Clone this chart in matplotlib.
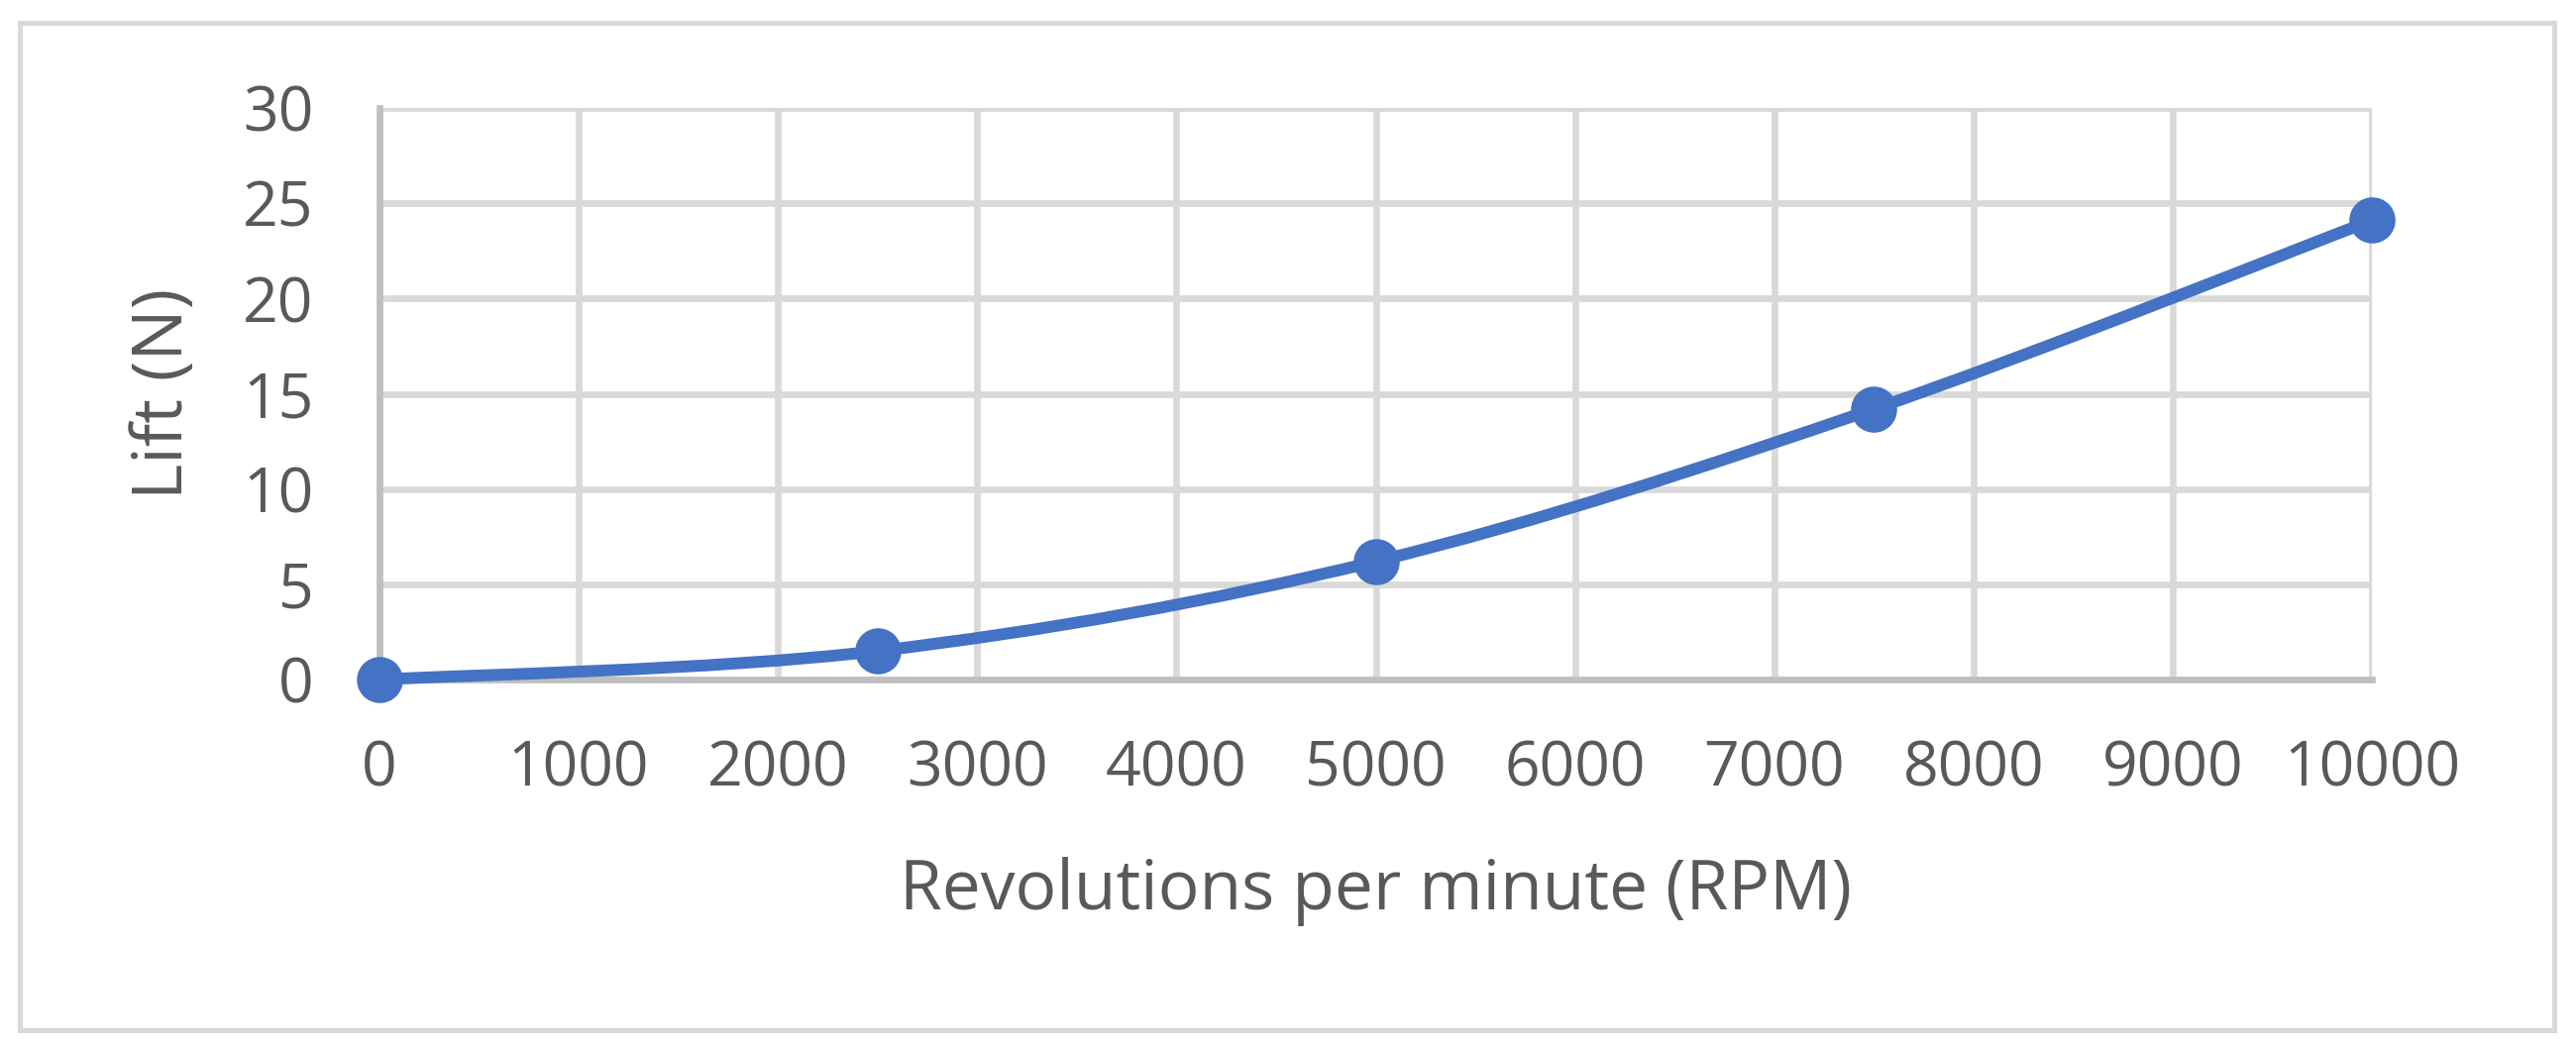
import matplotlib
matplotlib.use("Agg")
import matplotlib.pyplot as plt
import numpy as np
from matplotlib.path import Path
from matplotlib.patches import PathPatch, Rectangle

# Datos
rpm = [0, 2500, 5000, 7500, 10000]
lift = [0, 1.5, 6.2, 14.2, 24.1]
x_ticks = [0, 1000, 2000, 3000, 4000, 5000, 6000, 7000, 8000, 9000, 10000]
y_ticks = [0, 5, 10, 15, 20, 25, 30]
x_label = "Revolutions per minute (RPM)"
y_label = "Lift (N)"

blue = "#4472C4"
text_gray = "#595959"
grid_gray = "#D9D9D9"
axis_gray = "#BFBFBF"

plt.rcParams['font.family'] = ['Open Sans', 'DejaVu Sans']

fig = plt.figure(figsize=(26, 10.61), dpi=100)

# Marco exterior del grafico
fig.patches.append(Rectangle((0.0077, 0.0198), 0.9838, 0.9585, transform=fig.transFigure,
                             fill=False, edgecolor=grid_gray, linewidth=3.6))

ax = fig.add_axes([0.1473, 0.3534, 0.7735, 0.5439])
ax.set_xlim(0, 10000)
ax.set_ylim(0, 30)

# Linea suavizada (estilo Excel, Bezier tipo Catmull-Rom)
pts = np.column_stack([rpm, lift]).astype(float)
n = len(pts)
verts = [pts[0]]
codes = [Path.MOVETO]
for i in range(n - 1):
    p0 = pts[i - 1] if i > 0 else pts[i]
    p1 = pts[i]
    p2 = pts[i + 1]
    p3 = pts[i + 2] if i + 2 < n else pts[i + 1]
    c1 = p1 + (p2 - p0) / 6.0
    c2 = p2 - (p3 - p1) / 6.0
    verts += [c1, c2, p2]
    codes += [Path.CURVE4] * 3
ax.add_patch(PathPatch(Path(verts, codes), facecolor="none", edgecolor=blue,
                       linewidth=8.6, capstyle="round", zorder=3, clip_on=False))
ax.plot(rpm, lift, linestyle="none", marker="o", markersize=32.5, color=blue,
        zorder=4, clip_on=False)

ax.set_xticks(x_ticks)
ax.set_yticks(y_ticks)
ax.grid(True, color=grid_gray, linewidth=4.8)
ax.set_axisbelow(True)
for s in ["top", "right"]:
    ax.spines[s].set_visible(False)
for s in ["left", "bottom"]:
    ax.spines[s].set_color(axis_gray)
    ax.spines[s].set_linewidth(4.8)
ax.tick_params(length=0, labelsize=45, labelcolor=text_gray)
ax.tick_params(axis="y", pad=48)
ax.tick_params(axis="x", pad=43)

ax.set_xlabel(x_label, fontsize=50, color=text_gray, va="center")
ax.set_ylabel(y_label, fontsize=50, color=text_gray, va="center")
ax.xaxis.set_label_coords(0.5, -0.371)
ax.yaxis.set_label_coords(-0.108, 0.5)

fig.savefig("out.png", dpi=100)
